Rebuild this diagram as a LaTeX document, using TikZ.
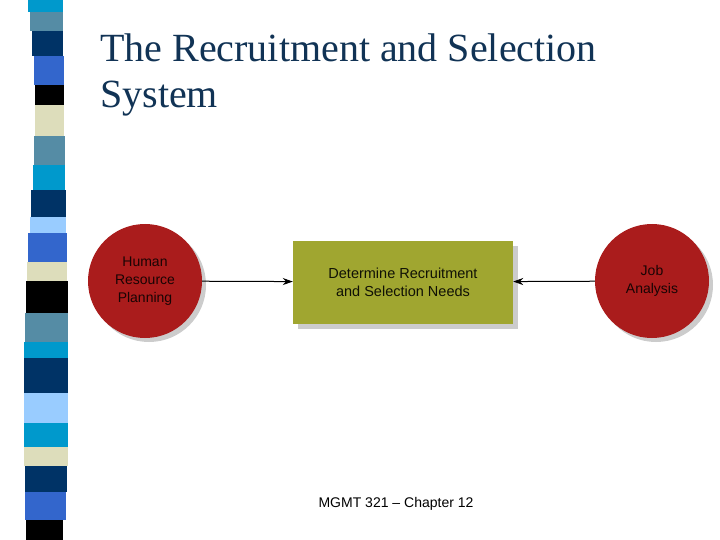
\documentclass[tikz,border=0pt]{standalone}
\usepackage{fontspec}
\setmainfont{Liberation Serif}
\setsansfont{Liberation Sans}
\usetikzlibrary{arrows.meta,shadows}
\definecolor{titlecolor}{RGB}{17, 51, 85}
\definecolor{circcolor}{RGB}{170, 28, 28}
\definecolor{boxcolor}{RGB}{160, 166, 48}
\definecolor{cyanb}{RGB}{0, 153, 204}
\definecolor{steel}{RGB}{85, 140, 165}
\definecolor{navy}{RGB}{0, 51, 102}
\definecolor{royal}{RGB}{51, 102, 204}
\definecolor{beige}{RGB}{221, 221, 187}
\definecolor{lightb}{RGB}{153, 204, 255}

\begin{document}
\begin{tikzpicture}[x=1pt,y=-1pt,
	roundbox/.style={circle, fill=circcolor, minimum size=114pt, inner sep=0pt, align=center,
		text=black!85!circcolor, font=\sffamily\fontsize{14}{18}\selectfont,
		drop shadow={shadow xshift=4pt, shadow yshift=-4pt, opacity=0.4}},
	needbox/.style={rectangle, fill=boxcolor, minimum width=220pt, minimum height=83pt, align=center,
		text=black!90!boxcolor, font=\sffamily\fontsize{14.5}{18}\selectfont,
		drop shadow={shadow xshift=5pt, shadow yshift=-5pt, opacity=0.4}},
	feed/.style={-{Stealth[length=10pt,width=7pt]}, line width=1pt, black}]
	\useasboundingbox[fill=white] (0,0) rectangle (720,540);
	% side strip
	\foreach \ya/\yb/\xl/\xr/\col in {0/12/28/63/cyanb, 12/31/30/63/steel, 31/56/32/63/navy,
		56/85/34/64/royal, 85/105/35/64/black, 105/136/35/64/beige, 136/165/34/65/steel,
		165/190/33/65/cyanb, 190/217/31/66/navy, 217/233/30/66/lightb, 233/262/28/67/royal,
		262/281/27/67/beige, 281/313/26/68/black, 313/342/25/68/steel, 342/358/24/68/cyanb,
		358/393/24/68/navy, 393/423/24/68/lightb, 423/447/24/68/cyanb, 447/466/24/68/beige,
		466/492/25/67/navy, 492/520/25/66/royal, 520/540/26/63/black}
		\fill[\col] (\xl,\ya) rectangle (\xr,\yb);
	% title
	\node[anchor=base west, inner sep=0pt, text=titlecolor, font=\fontsize{40}{46}\selectfont] (title1) at (100,62) {The Recruitment and Selection};
	\node[anchor=base west, inner sep=0pt, text=titlecolor, font=\fontsize{40}{46}\selectfont] (title2) at (100,108) {System};
	% diagram
	\node[needbox] (needs) at (403,282) {Determine Recruitment\\and Selection Needs};
	\node[roundbox] (hrp) at (145,281) {Human\\Resource\\Planning};
	\node[roundbox] (job) at (652,281) {Job\\Analysis};
	\draw[feed] (hrp) -- (needs);
	\draw[feed] (job) -- (needs);
	% footer
	\node[font=\sffamily\fontsize{14}{16}\selectfont] (foot) at (396,504) {MGMT 321 -- Chapter 12};
\end{tikzpicture}
\end{document}
